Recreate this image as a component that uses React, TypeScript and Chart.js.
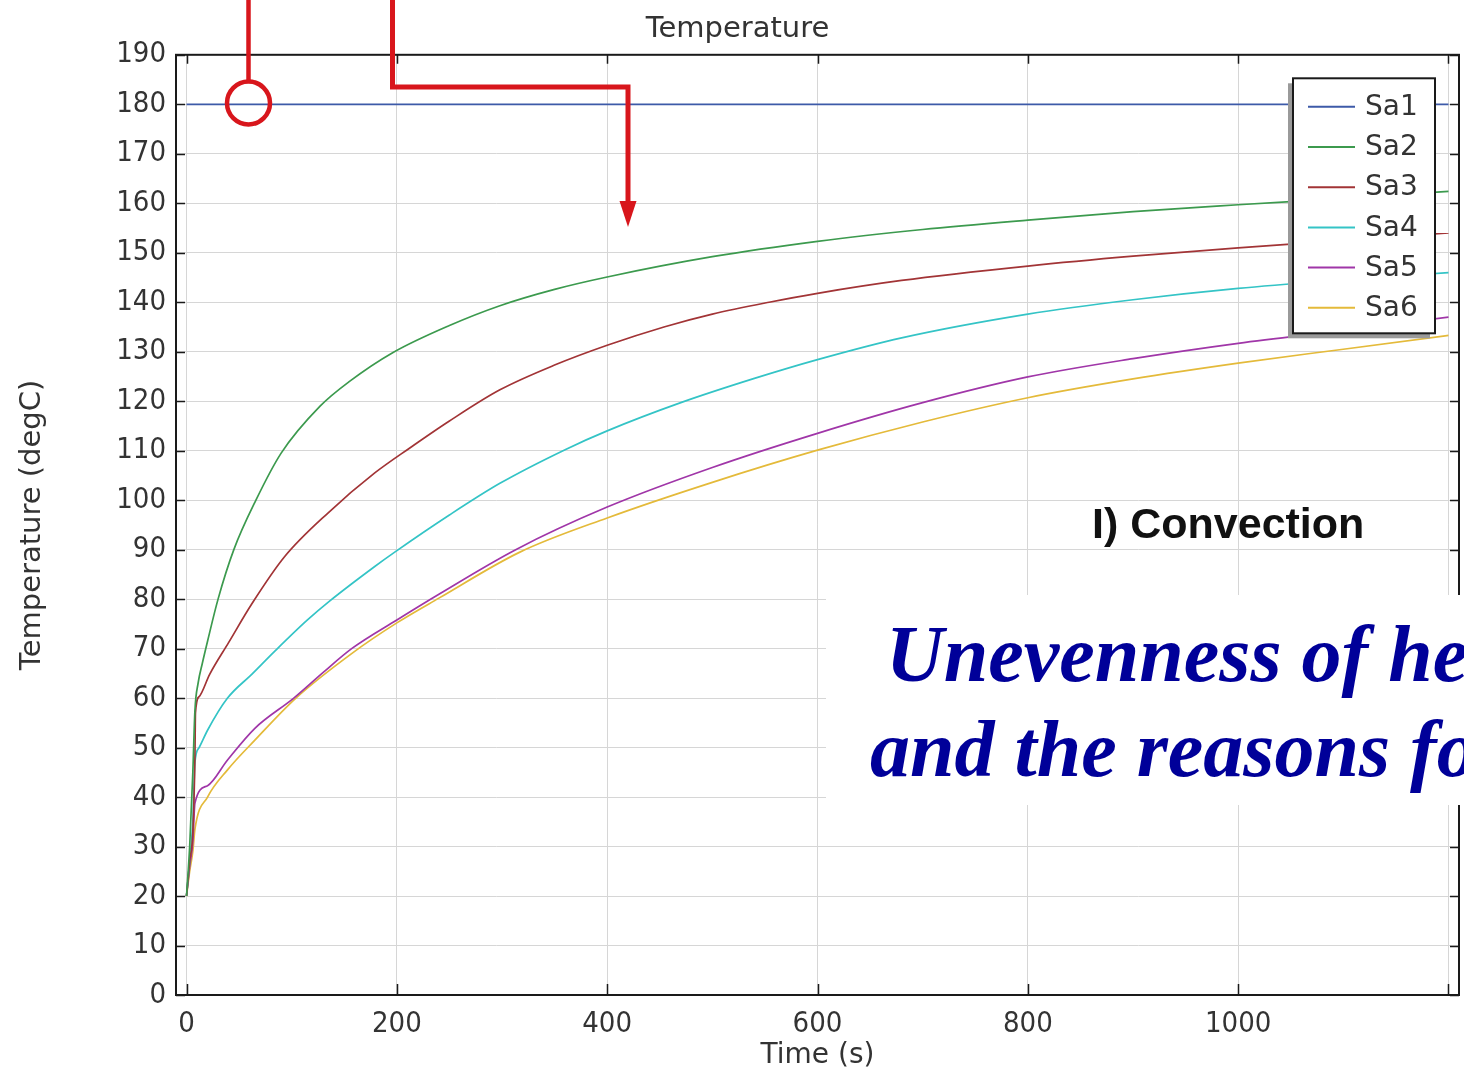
import React, { useEffect, useRef } from 'react';
import { Chart, registerables } from 'chart.js';

Chart.register(...registerables);

// ---------- data ----------
const seriesLabels = ['Sa1', 'Sa2', 'Sa3', 'Sa4', 'Sa5', 'Sa6'];
const seriesColors = ['#3d5aa8', '#3c9a4e', '#a23436', '#34c4c6', '#a036a8', '#e4ba3a'];

const sa1Time = [0, 1200];
const sa1Temp = [180, 180];

const sa2Time = [0, 3, 6, 8, 11, 15, 20, 30, 45, 66, 90, 127, 155, 196, 250, 298, 350, 400, 500, 600, 700, 800, 900, 1000, 1100, 1200];
const sa2Temp = [20, 30, 45, 57.5, 63, 67, 71.5, 80, 90, 100, 109.5, 119, 124, 129.8, 135.3, 139.3, 142.6, 145.1, 149.2, 152.3, 154.7, 156.6, 158.3, 159.7, 161, 162.4];

const sa3Time = [0, 3, 6, 8, 8.5, 12, 22, 40, 62, 93, 135, 179, 212, 250, 298, 350, 400, 454, 500, 554, 600, 680, 800, 900, 1000, 1100, 1200];
const sa3Temp = [20, 27, 33, 48, 57, 60.3, 64.8, 71.2, 79, 88.5, 97.5, 105.5, 110.5, 116, 122.3, 127.3, 131.3, 135, 137.6, 140, 141.8, 144.4, 147.3, 149.3, 151, 152.5, 154];

const sa4Time = [0, 3, 6, 8, 12, 20, 39, 62, 84, 115, 136, 179, 198, 250, 298, 360, 400, 470, 540, 600, 680, 800, 900, 1000, 1100, 1200];
const sa4Temp = [20, 27, 35, 47, 50, 53.5, 60, 64.8, 69.5, 75.8, 79.6, 86.6, 89.5, 97, 103.4, 110.2, 114, 119.7, 124.6, 128.4, 132.8, 137.6, 140.5, 142.8, 144.5, 146];

const sa5Time = [0, 3, 6, 8, 20, 39, 65, 102, 130, 157, 200, 240, 313, 400, 500, 600, 700, 800, 900, 1000, 1100, 1200];
const sa5Temp = [20, 26, 31, 38.8, 42.3, 47.5, 53.9, 60, 65.2, 70, 75.8, 81, 90, 98.6, 106.6, 113.5, 119.7, 124.9, 128.6, 131.7, 134.3, 137];

const sa6Time = [0, 3, 6, 8, 20, 39, 65, 104, 157, 200, 240, 317, 400, 500, 600, 700, 800, 900, 1000, 1100, 1200];
const sa6Temp = [20, 25, 29, 33.5, 40, 45.5, 51.5, 60, 69, 75.2, 80.2, 89.5, 96.4, 103.6, 110.1, 115.8, 120.7, 124.5, 127.7, 130.5, 133.3];

const seriesTimes = [sa1Time, sa2Time, sa3Time, sa4Time, sa5Time, sa6Time];
const seriesTemps = [sa1Temp, sa2Temp, sa3Temp, sa4Temp, sa5Temp, sa6Temp];

const xTickValues = [0, 200, 400, 600, 800, 1000, 1200];
const xTickLabels = ['0', '200', '400', '600', '800', '1000', ''];
const yTickValues = [0, 10, 20, 30, 40, 50, 60, 70, 80, 90, 100, 110, 120, 130, 140, 150, 160, 170, 180, 190];
const yTickLabels = ['0', '10', '20', '30', '40', '50', '60', '70', '80', '90', '100', '110', '120', '130', '140', '150', '160', '170', '180', '190'];

const chartTitle = 'Temperature';
const xTitle = 'Time (s)';
const yTitle = 'Temperature (degC)';

// ---------- styling ----------
const TICK_FONT = "'DejaVu Sans Condensed', 'DejaVu Sans', sans-serif";
const LABEL_FONT = "'DejaVu Sans', sans-serif";
const TEXT_COLOR = '#333333';
const W = 1464;
const H = 1074;

const framePlugin = {
  id: 'comsolFrame',
  afterDatasetsDraw(chart: any) {
    const { ctx, chartArea: a, scales } = chart;
    const xs = scales.x;
    const ys = scales.y;
    ctx.save();
    // inward ticks
    ctx.strokeStyle = '#1a1a1a';
    ctx.lineWidth = 1.5;
    const tl = 9;
    ctx.beginPath();
    for (const v of yTickValues) {
      const py = Math.round(ys.getPixelForValue(v)) + 0.5;
      ctx.moveTo(a.left, py);
      ctx.lineTo(a.left + tl, py);
      ctx.moveTo(a.right, py);
      ctx.lineTo(a.right - tl, py);
    }
    for (const v of xTickValues) {
      const px = Math.round(xs.getPixelForValue(v)) + 0.5;
      ctx.moveTo(px, a.bottom);
      ctx.lineTo(px, a.bottom - tl - 2);
      ctx.moveTo(px, a.top);
      ctx.lineTo(px, a.top + tl);
    }
    ctx.stroke();
    // frame
    ctx.lineWidth = 2;
    ctx.strokeStyle = '#1a1a1a';
    ctx.strokeRect(a.left, a.top, a.right - a.left, a.bottom - a.top);

    // legend box inside the plot
    const boxRight = a.right - 24;
    const boxTop = a.top + 23.5;
    const rowH = 40.2;
    const boxW = 142;
    const boxH = 255;
    const boxLeft = boxRight - boxW;
    ctx.fillStyle = '#9a9a9a';
    ctx.fillRect(boxLeft - 5, boxTop + 5, boxW, boxH);
    ctx.fillStyle = '#ffffff';
    ctx.fillRect(boxLeft, boxTop, boxW, boxH);
    ctx.lineWidth = 2;
    ctx.strokeStyle = '#1a1a1a';
    ctx.strokeRect(boxLeft, boxTop, boxW, boxH);
    ctx.font = `28px ${LABEL_FONT}`;
    ctx.textBaseline = 'middle';
    ctx.textAlign = 'left';
    chart.data.datasets.forEach((ds: any, i: number) => {
      const cy = boxTop + 28.5 + rowH * i;
      ctx.strokeStyle = ds.borderColor;
      ctx.lineWidth = 2;
      ctx.beginPath();
      ctx.moveTo(boxLeft + 15, cy);
      ctx.lineTo(boxLeft + 62, cy);
      ctx.stroke();
      ctx.fillStyle = TEXT_COLOR;
      ctx.fillText(ds.label, boxLeft + 72, cy + 1);
    });
    ctx.restore();
  },
};

function ChartCanvas() {
  const ref = useRef<HTMLCanvasElement | null>(null);
  useEffect(() => {
    if (!ref.current) return;
    const datasets = seriesLabels.map((label, i) => ({
      label,
      data: seriesTimes[i].map((t, j) => ({ x: t, y: seriesTemps[i][j] })),
      borderColor: seriesColors[i],
      backgroundColor: seriesColors[i],
      borderWidth: 1.7,
      pointRadius: 0,
      cubicInterpolationMode: 'monotone',
      fill: false,
    }));
    const tickFont = { family: TICK_FONT, size: 29 };
    const chart = new Chart(ref.current, {
      type: 'line',
      data: { datasets },
      plugins: [framePlugin],
      options: {
        animation: false,
        responsive: false,
        maintainAspectRatio: false,
        layout: { padding: { left: 16, right: 5, top: 0, bottom: 0 } },
        plugins: {
          legend: { display: false },
          tooltip: { enabled: false },
          title: {
            display: true,
            text: chartTitle,
            color: TEXT_COLOR,
            font: { family: LABEL_FONT, size: 29, weight: 'normal' },
            padding: { top: 12, bottom: 8 },
          },
        },
        scales: {
          x: {
            type: 'linear',
            min: -10,
            max: 1210,
            afterBuildTicks: (s: any) => {
              s.ticks = xTickValues.map((v) => ({ value: v }));
            },
            afterFit: (s: any) => {
              s.height = 79;
            },
            ticks: {
              autoSkip: false,
              maxRotation: 0,
              color: TEXT_COLOR,
              font: tickFont,
              padding: 12,
              callback: (v: any) => xTickLabels[xTickValues.indexOf(Number(v))] ?? '',
            },
            grid: { color: '#d6d6d6', lineWidth: 1, drawTicks: false },
            border: { display: false },
            title: {
              display: true,
              text: xTitle,
              color: TEXT_COLOR,
              font: { family: LABEL_FONT, size: 28 },
              padding: { top: 0, bottom: 1 },
            },
          },
          y: {
            type: 'linear',
            min: 0,
            max: 190,
            afterBuildTicks: (s: any) => {
              s.ticks = yTickValues.map((v) => ({ value: v }));
            },
            afterFit: (s: any) => {
              s.width = 160;
            },
            ticks: {
              autoSkip: false,
              color: TEXT_COLOR,
              font: tickFont,
              padding: 10,
              callback: (v: any) => yTickLabels[yTickValues.indexOf(Number(v))] ?? '',
            },
            grid: { color: '#d6d6d6', lineWidth: 1, drawTicks: false },
            border: { display: false },
            title: {
              display: true,
              text: yTitle,
              color: TEXT_COLOR,
              font: { family: LABEL_FONT, size: 29 },
              padding: { top: -1.4, bottom: 0 },
            },
          },
        },
      },
    } as any);
    return () => chart.destroy();
  }, []);
  return <canvas ref={ref} width={W} height={H} style={{ width: W, height: H, display: 'block' }} />;
}

export default function App() {
  const red = '#d8161c';
  return (
    <div style={{ position: 'absolute', left: 0, top: 0, width: W, height: H, overflow: 'hidden', background: '#fff' }}>
      <ChartCanvas />
      <svg width={W} height={H} style={{ position: 'absolute', left: 0, top: 0 }}>
        <line x1={248.5} y1={0} x2={248.5} y2={81} stroke={red} strokeWidth={4.5} />
        <circle cx={248.5} cy={103} r={21.5} fill="none" stroke={red} strokeWidth={4.5} />
        <polyline points="392.5,0 392.5,87 628,87 628,205" fill="none" stroke={red} strokeWidth={5} />
        <polygon points="619.5,201 636.5,201 628,227" fill={red} />
      </svg>
      <div
        style={{
          position: 'absolute',
          left: 1092,
          top: 497,
          fontFamily: "'Liberation Sans', Arial, sans-serif",
          fontWeight: 'bold',
          fontSize: 43,
          lineHeight: '52px',
          color: '#111',
          whiteSpace: 'nowrap',
        }}
      >
        I) Convection
      </div>
      <div
        style={{
          position: 'absolute',
          left: 826,
          top: 595,
          width: W - 826,
          height: 210,
          background: '#ffffff',
          overflow: 'hidden',
        }}
      >
        <div
          style={{
            position: 'absolute',
            left: 60,
            top: 12,
            fontFamily: "'Liberation Serif', 'Times New Roman', serif",
            fontStyle: 'italic',
            fontWeight: 'bold',
            fontSize: 80,
            lineHeight: '95px',
            color: '#000099',
            whiteSpace: 'nowrap',
          }}
        >
          Unevenness of he
        </div>
        <div
          style={{
            position: 'absolute',
            left: 44,
            top: 107,
            fontFamily: "'Liberation Serif', 'Times New Roman', serif",
            fontStyle: 'italic',
            fontWeight: 'bold',
            fontSize: 80,
            lineHeight: '95px',
            color: '#000099',
            whiteSpace: 'nowrap',
          }}
        >
          and the reasons fo
        </div>
      </div>
    </div>
  );
}
